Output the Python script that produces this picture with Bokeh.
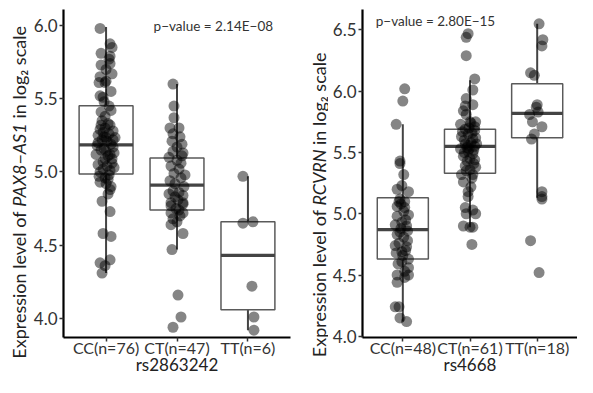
import math
from bokeh.plotting import figure
from bokeh.layouts import row
from bokeh.models import FixedTicker, PrintfTickFormatter, Label, FactorRange, Range1d
from bokeh.embed import file_html
from bokeh.resources import INLINE

FONT = "Lato"

# ---------------- data: left panel (rs2863242, PAX8-AS1) ----------------
left_cats = ["CC(n=76)", "CT(n=47)", "TT(n=6)"]
left_cc = [5.98, 5.875, 5.85, 5.81, 5.79, 5.74, 5.73, 5.70, 5.67, 5.65, 5.61, 5.61, 5.55, 5.52, 5.51,
           5.41, 5.42, 5.38, 5.32, 5.32, 5.30, 5.28, 5.25, 5.235, 5.235, 5.22, 5.20, 5.19, 5.12, 5.12,
           5.09, 5.05, 5.06, 5.02, 5.01, 4.93, 4.92, 4.88, 4.85, 4.73, 4.58, 4.56, 4.40, 4.38, 4.36,
           4.31, 5.33, 5.27, 5.26, 5.29, 5.21, 5.17, 5.16, 5.14, 5.13, 5.15, 5.11, 5.18, 5.09, 5.07,
           5.04, 5.00, 4.98, 4.96, 5.22, 5.35, 5.45, 5.48, 5.03, 4.97, 4.95, 4.90, 4.80, 5.62, 5.77, 5.24]
left_cc_jit = [-6, 4, 6, -5, 4, 4, -5, 0, 6, -6, -1, -7, 5, -6, -3,
               -5, 5, -1, -5, 4, -1, 7, -8, 0, 9, -4, -8, 5, -10, 4,
               -1, -8, 6, -3, 4, -6, 0, 4, 2, 4, -3, 5, 4, -6, -1,
               -4, 2, -3, 3, -6, 1, 7, -2, 0, 8, -5, 2, -9, 6, -3,
               1, -6, 3, -1, 7, -4, 3, -2, 8, -7, 2, 5, -4, 0, 3, -2]
left_ct = [5.60, 5.45, 5.37, 5.30, 5.30, 5.26, 5.19, 5.14, 5.13, 5.10, 5.04, 5.02, 4.99, 4.96, 4.87,
           4.86, 4.84, 4.79, 4.79, 4.77, 4.78, 4.72, 4.72, 4.68, 4.64, 4.58, 4.47, 4.16, 4.01, 3.94,
           5.08, 5.06, 4.92, 4.90, 4.94, 4.81, 4.75, 4.70, 5.17, 5.21, 4.98, 4.83, 4.74, 5.11, 4.85,
           4.66, 5.24]
left_ct_jit = [-4, -3, -3, -7, 2, -4, 5, -4, 6, -8, -6, 2, -3, 4, -4,
               2, 6, -6, 6, -6, 6, -6, 6, -4, -6, 6, -5, 1, 4, -4,
               0, 4, -2, 7, -7, 1, -1, 3, 0, -5, 8, -2, 2, 5, -8,
               0, 3]
left_tt = [4.97, 4.65, 4.66, 4.22, 4.01, 3.92]
left_tt_jit = [-5, -5, 5, 4, 6, 6]
# box stats: lower whisker, Q1, median, Q3, upper whisker
left_lo = [4.31, 4.47, 3.92]
left_q1 = [4.986, 4.74, 4.06]
left_med = [5.185, 4.91, 4.43]
left_q3 = [5.452, 5.095, 4.66]
left_hi = [5.99, 5.60, 4.97]
left_ticks = [4.0, 4.5, 5.0, 5.5, 6.0]
left_pvalue = "p\u2212value = 2.14E\u221208"
left_gene = "PAX8\u2212AS1"
left_snp = "rs2863242"

# ---------------- data: right panel (rs4668, RCVRN) ----------------
right_cats = ["CC(n=48)", "CT(n=61)", "TT(n=18)"]
right_cc = [6.02, 5.92, 5.73, 5.43, 5.41, 5.32, 5.20, 5.18, 5.23, 5.10, 5.10, 5.12, 5.06, 5.05, 4.99,
            4.98, 4.93, 4.91, 4.85, 4.83, 4.81, 4.74, 4.73, 4.69, 4.63, 4.61, 4.56, 4.50, 4.50, 4.48,
            4.44, 4.24, 4.24, 4.15, 4.12, 4.95, 4.88, 4.78, 4.76, 4.66, 4.70, 4.59, 5.02, 4.90, 5.08,
            4.86, 4.68, 4.53]
right_cc_jit = [2, 0, -7, -3, -3, 1, -6, 6, -1, -4, 2, -3, -6, 2, 6,
                -6, -1, -8, -3, -6, 1, -8, 4, -1, 6, -1, 6, -6, 6, 2,
                -6, -8, -4, -3, 4, 3, -2, 5, -4, 0, 3, -5, 1, 4, -2,
                5, -7, 2]
right_ct = [6.47, 6.44, 6.29, 6.10, 6.01, 5.94, 5.89, 5.88, 5.84, 5.81, 5.73, 5.75, 5.75, 5.71, 5.69,
            5.65, 5.63, 5.61, 5.57, 5.55, 5.53, 5.51, 5.49, 5.47, 5.44, 5.39, 5.36, 5.32, 5.32, 5.26,
            5.22, 5.18, 5.14, 5.05, 5.03, 5.00, 5.00, 4.90, 4.89, 4.89, 4.75, 5.58, 5.54, 5.52, 5.60,
            5.66, 5.70, 5.62, 5.67, 5.45, 5.41, 5.43, 5.57, 5.35, 5.29, 5.53, 5.68, 5.50, 5.74, 5.38,
            5.56]
right_ct_jit = [-2, -4, -4, 5, 3, -4, 3, -5, -7, -4, -10, 0, 6, 5, -5,
                -2, -9, 3, -5, 5, -10, -2, 3, -7, 5, -5, 0, -9, 3, -7,
                1, -2, -2, -5, 3, 6, -4, -7, 0, 3, 2, 1, -3, 4, -6,
                2, -1, 6, -8, 0, 4, -3, 7, -4, 2, -1, 5, -6, 1, 6,
                -2]
right_tt = [6.55, 6.42, 6.37, 6.15, 6.13, 5.89, 5.87, 5.81, 5.75, 5.71, 5.65, 5.61, 5.18, 5.14, 5.12,
            4.78, 4.52, 5.83]
right_tt_jit = [2, 6, 5, -7, -3, 0, -1, -8, -5, 5, -3, -6, 5, 5, 5, -7, 2, 1]
right_lo = [4.12, 4.89, 5.13]
right_q1 = [4.63, 5.33, 5.62]
right_med = [4.87, 5.55, 5.82]
right_q3 = [5.13, 5.69, 6.06]
right_hi = [5.73, 6.09, 6.55]
right_ticks = [4.0, 4.5, 5.0, 5.5, 6.0, 6.5]
right_pvalue = "p\u2212value = 2.80E\u221215"
right_gene = "RCVRN"
right_snp = "rs4668"

JIT_PX = 71.0   # jitter values above are in pixels of one category step
BOX_HALF = 0.38
H = 377


def blank_strip(width, height):
    s = figure(width=width, height=height, output_backend="svg", toolbar_location=None,
               x_range=Range1d(0, width), y_range=Range1d(0, height),
               x_axis_location=None, y_axis_location=None, min_border=0)
    s.frame_align = False
    s.outline_line_color = None
    s.grid.visible = False
    s.background_fill_color = "white"
    s.border_fill_color = "white"
    return s


def make_panel(cats, groups, jits, lo, q1, med, q3, hi, ticks, yr, width, bl, br,
               xlabel, pval, pval_x, pval_y):
    p = figure(width=width, height=H, output_backend="svg", toolbar_location=None,
               x_range=FactorRange(*cats, range_padding=0.2 / 3), y_range=Range1d(*yr),
               min_border=0)
    p.frame_align = False
    p.min_border_left = bl
    p.min_border_right = br
    p.min_border_top = 9
    p.min_border_bottom = 40
    p.outline_line_color = None
    p.xgrid.grid_line_color = None
    p.ygrid.grid_line_color = None
    p.background_fill_color = "white"
    p.border_fill_color = "white"

    xc = [i + 0.5 for i in range(len(cats))]
    p.segment(x0=xc, y0=q3, x1=xc, y1=hi, line_color="#444444", line_width=2)
    p.segment(x0=xc, y0=lo, x1=xc, y1=q1, line_color="#444444", line_width=2)
    p.quad(left=[x - BOX_HALF for x in xc], right=[x + BOX_HALF for x in xc],
           bottom=q1, top=q3, fill_color="white", line_color="#5a5a5a", line_width=1.5)
    p.segment(x0=[x - BOX_HALF for x in xc], y0=med, x1=[x + BOX_HALF for x in xc], y1=med,
              line_color="#444444", line_width=3.2)
    for i, (vals, jit) in enumerate(zip(groups, jits)):
        xs = [xc[i] + j / JIT_PX for j in jit]
        p.scatter(x=xs, y=vals, size=11, fill_color="black", fill_alpha=0.48,
                  line_color=None)

    for ax in (p.xaxis, p.yaxis):
        ax.axis_line_color = "black"
        ax.axis_line_width = 2.2
        ax.major_tick_line_color = "#333333"
        ax.major_tick_line_width = 1.5
        ax.major_tick_in = 0
        ax.major_tick_out = 4
        ax.minor_tick_line_color = None
        ax.major_label_text_font = FONT
        ax.major_label_text_color = "#333333"
    p.yaxis.major_label_text_font_size = "17px"
    p.xaxis.major_label_text_font_size = "16px"
    p.xaxis.major_label_standoff = -4
    p.yaxis.major_label_standoff = 2
    p.xaxis.axis_label = xlabel
    p.xaxis.axis_label_text_font = FONT
    p.xaxis.axis_label_text_font_size = "17px"
    p.xaxis.axis_label_text_font_style = "normal"
    p.xaxis.axis_label_text_color = "#222222"
    p.xaxis.axis_label_standoff = -6
    p.yaxis.ticker = FixedTicker(ticks=ticks)
    p.yaxis.formatter = PrintfTickFormatter(format="%.1f")

    p.add_layout(Label(x=pval_x, y=pval_y, text=pval, text_align="center",
                       text_baseline="middle", text_font=FONT, text_font_size="13.5px",
                       text_color="#333333"))
    return p


def make_ylabel(width, xcenter, gene, anchors):
    # narrow strip holding the y-axis title (gene name in italics); units = pixels
    s = blank_strip(width, H)
    a1, a2, a3 = anchors
    common = dict(text_font=FONT, text_font_size="18px", text_color="#222222",
                  text_baseline="middle", angle=math.pi / 2)
    s.add_layout(Label(x=xcenter, y=a1, text="Expression level of", text_align="right", **common))
    s.add_layout(Label(x=xcenter, y=a2, text=gene, text_align="center",
                       text_font_style="italic", **common))
    s.add_layout(Label(x=xcenter, y=a3, text="in log\u2082 scale", text_align="left", **common))
    return s


yl1 = make_ylabel(30, 18, left_gene, (H - 211, H - 164.5, H - 118))
p1 = make_panel(left_cats, [left_cc, left_ct, left_tt], [left_cc_jit, left_ct_jit, left_tt_jit],
                left_lo, left_q1, left_med, left_q3, left_hi, left_ticks, (3.87, 6.109),
                270, 32, 10, left_snp, left_pvalue, 2.012, 5.993)
yl2 = make_ylabel(28, 18, right_gene, (H - 209.5, H - 177, H - 144.5))
p2 = make_panel(right_cats, [right_cc, right_ct, right_tt], [right_cc_jit, right_ct_jit, right_tt_jit],
                right_lo, right_q1, right_med, right_q3, right_hi, right_ticks, (3.99, 6.667),
                249, 34, 0, right_snp, right_pvalue, 0.986, 6.577)

layout = row(yl1, p1, yl2, p2)
open("out.html", "w").write(file_html(layout, INLINE))
